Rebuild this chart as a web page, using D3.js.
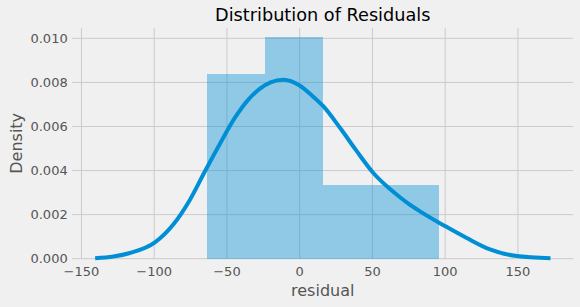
<!DOCTYPE html>
<html>
<head>
<meta charset="utf-8">
<script src="https://cdn.jsdelivr.net/npm/d3@7"></script>
<style>
  body { margin: 0; background: #f0f0f0; }
  svg { display: block; font-family: "DejaVu Sans", sans-serif; }
</style>
</head>
<body>
<svg id="chart" width="580" height="307"></svg>
<script>
// histogram bins (edges) and densities
const binEdges = [-63.7, -23.85, 16.0, 55.85, 95.7];
const binDensity = [0.00836, 0.01004, 0.00335, 0.00335];

// kde curve
const kdeX = [-140.6, -128.1, -116.7, -99.5, -86.9, -75.4, -65.1, -54.8, -44.5, -35.3, -27.3, -20, -11.3, 0.2, 8, 16.2, 27.7, 39.2, 50.6, 62.1, 68.9, 74.7, 82.7, 99.9, 114.8, 130.8, 149.2, 172.4];
const kdeY = [0.00002, 0.0001, 0.00026, 0.00074, 0.00155, 0.00268, 0.00397, 0.00522, 0.0064, 0.00722, 0.00772, 0.008, 0.00812, 0.00785, 0.00743, 0.00692, 0.00594, 0.00488, 0.00389, 0.00316, 0.00279, 0.0025, 0.00215, 0.00148, 0.00094, 0.00042, 0.00012, 0.00002];

const xTicks = [-150, -100, -50, 0, 50, 100, 150];
const yTicks = [0, 0.002, 0.004, 0.006, 0.008, 0.010];

const svg = d3.select("#chart");
const plot = { left: 72.3, right: 573.2, top: 28, bottom: 258.7 };

const x = d3.scaleLinear().domain([-156.3, 188]).range([plot.left, plot.right]);
const y = d3.scaleLinear().domain([0, 0.01047]).range([plot.bottom, plot.top]);

svg.append("rect").attr("width", 580).attr("height", 307).attr("fill", "#f0f0f0");

// grid
const grid = svg.append("g").attr("stroke", "#cbcbcb").attr("stroke-width", 1);
grid.selectAll(".gx").data(xTicks).join("line")
  .attr("x1", d => x(d)).attr("x2", d => x(d))
  .attr("y1", plot.top).attr("y2", plot.bottom);
grid.selectAll(".gy").data(yTicks).join("line")
  .attr("x1", plot.left).attr("x2", plot.right)
  .attr("y1", d => y(d)).attr("y2", d => y(d));

// bars
const bins = binDensity.map((v, i) => ({ x0: binEdges[i], x1: binEdges[i + 1], v }));
svg.append("g").selectAll("rect").data(bins).join("rect")
  .attr("x", d => x(d.x0))
  .attr("width", d => x(d.x1) - x(d.x0))
  .attr("y", d => y(d.v))
  .attr("height", d => y(0) - y(d.v))
  .attr("fill", "#008fd5")
  .attr("fill-opacity", 0.4)
  .attr("shape-rendering", "crispEdges");

// kde
const kde = kdeX.map((v, i) => [v, kdeY[i]]);
const line = d3.line()
  .x(d => x(d[0]))
  .y(d => y(d[1]))
  .curve(d3.curveMonotoneX);

svg.append("path")
  .datum(kde)
  .attr("d", line)
  .attr("fill", "none")
  .attr("stroke", "#008fd5")
  .attr("stroke-width", 4);

// tick labels
svg.append("g").selectAll("text").data(xTicks).join("text")
  .attr("x", d => x(d))
  .attr("y", 275.5)
  .attr("text-anchor", "middle")
  .attr("font-size", 13)
  .attr("fill", "#555")
  .text(d => d3.format("d")(d).replace("-", "\u2212"));

svg.append("g").selectAll("text").data(yTicks).join("text")
  .attr("x", 67.7)
  .attr("y", d => y(d) + 4.7)
  .attr("text-anchor", "end")
  .attr("font-size", 13)
  .attr("fill", "#555")
  .text(d => d3.format(".3f")(d));

// axis labels and title
svg.append("text")
  .attr("x", (plot.left + plot.right) / 2)
  .attr("y", 295.5)
  .attr("text-anchor", "middle")
  .attr("font-size", 16)
  .attr("fill", "#555")
  .text("residual");

svg.append("text")
  .attr("transform", `translate(22.3,${(plot.top + plot.bottom) / 2}) rotate(-90)`)
  .attr("text-anchor", "middle")
  .attr("font-size", 16)
  .attr("fill", "#555")
  .text("Density");

svg.append("text")
  .attr("x", (plot.left + plot.right) / 2)
  .attr("y", 21)
  .attr("text-anchor", "middle")
  .attr("font-size", 17.7)
  .attr("fill", "#000")
  .text("Distribution of Residuals");
</script>
</body>
</html>
